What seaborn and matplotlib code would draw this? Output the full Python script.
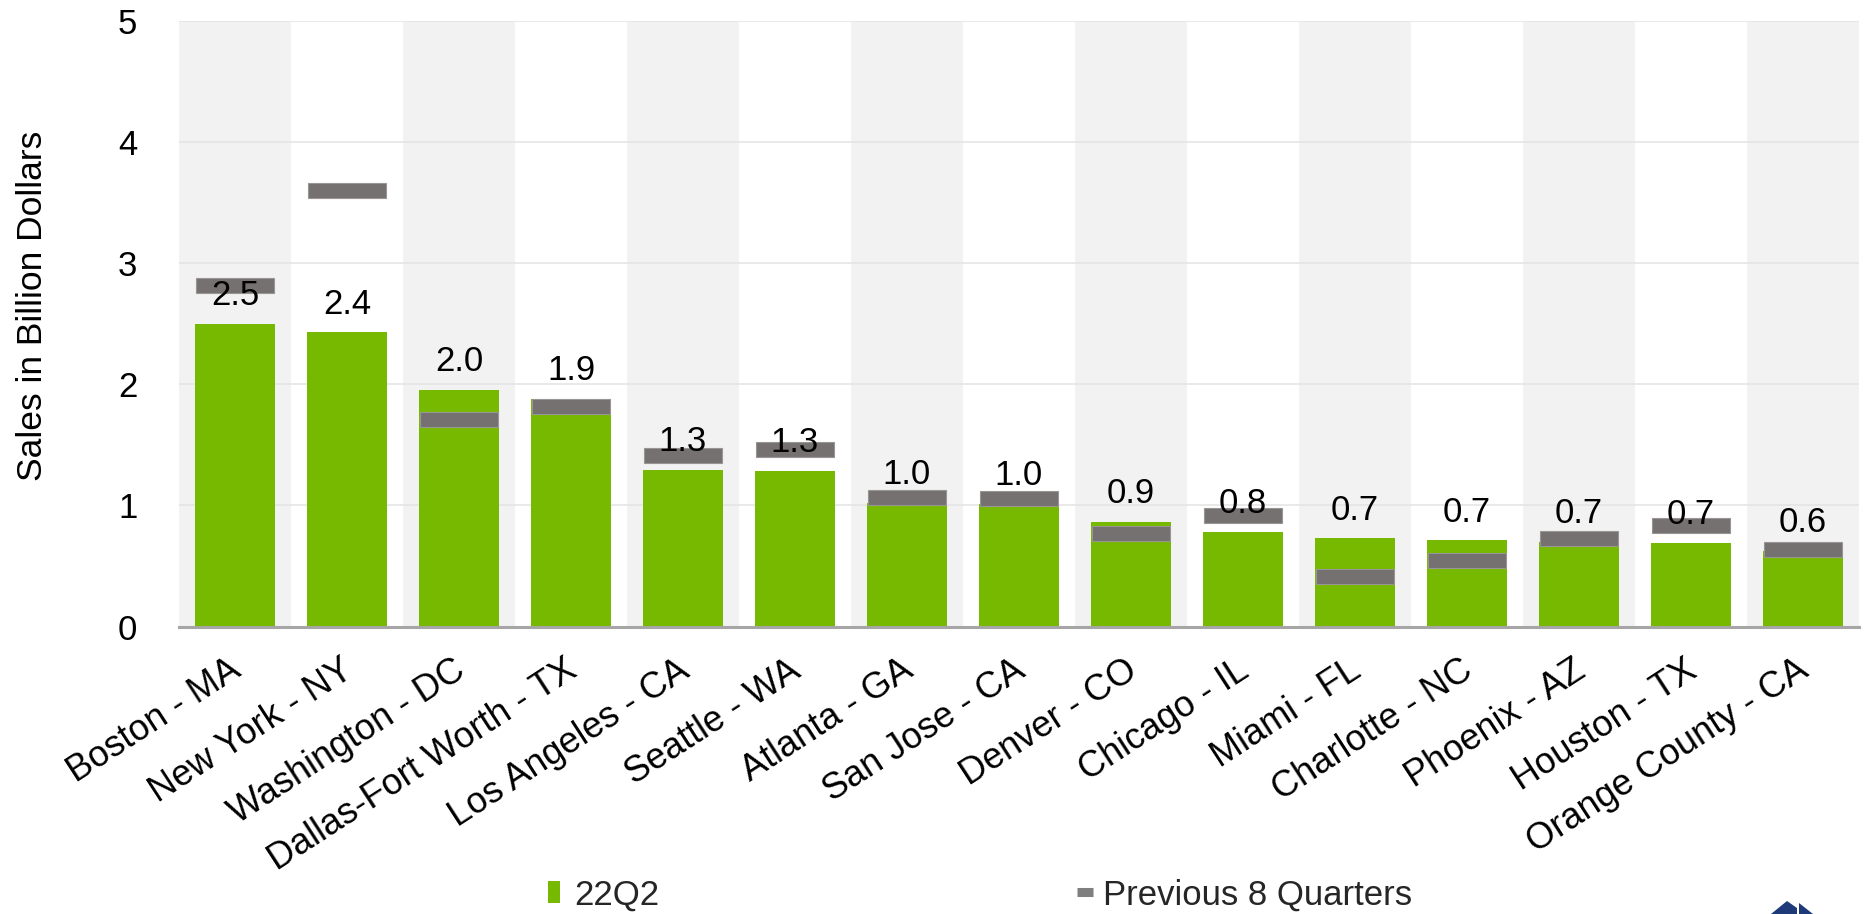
import numpy as np
import pandas as pd
import matplotlib
matplotlib.use("Agg")
import matplotlib.pyplot as plt
from matplotlib.patches import Patch, Polygon
from matplotlib.lines import Line2D
from matplotlib.transforms import ScaledTranslation
import seaborn as sns

# ---- data -------------------------------------------------------------
markets = [
    "Boston - MA", "New York - NY", "Washington - DC", "Dallas-Fort Worth - TX",
    "Los Angeles - CA", "Seattle - WA", "Atlanta - GA", "San Jose - CA",
    "Denver - CO", "Chicago - IL", "Miami - FL", "Charlotte - NC",
    "Phoenix - AZ", "Houston - TX", "Orange County - CA",
]
sales_22q2 = [2.50, 2.43, 1.955, 1.88, 1.293, 1.283, 1.02, 1.015,
              0.864, 0.781, 0.729, 0.712, 0.701, 0.69, 0.624]
prev_8_quarters = [2.82, 3.60, 1.71, 1.82, 1.415, 1.46, 1.07, 1.054,
                   0.771, 0.917, 0.417, 0.548, 0.727, 0.832, 0.639]
y_ticks = [0, 1, 2, 3, 4, 5]
series_names = ["22Q2", "Previous 8 Quarters"]

GREEN = "#76B900"
GREY_MARK = "#767171"
AXIS_GREY = "#A6A6A6"
BAND = "#F2F2F2"
GRID = "#E3E3E3"
NAVY = "#1F3A78"

df = pd.DataFrame({"market": markets, "sales": sales_22q2, "prev": prev_8_quarters})

sns.set_theme(style="white")
plt.rcParams["font.family"] = ["Liberation Sans", "DejaVu Sans"]

fig = plt.figure(figsize=(18.66, 9.14), dpi=100)
ax = fig.add_axes([0.0959, 0.3145, 0.9003, 0.6622])

n = len(markets)
pos = np.arange(n)

# alternating column shading
for i in pos[::2]:
    ax.axvspan(i - 0.5, i + 0.5, color=BAND, lw=0, zorder=0)

# current-quarter bars
sns.barplot(data=df, x="market", y="sales", color=GREEN, saturation=1,
            width=0.71, ax=ax, zorder=2, linewidth=0)

# previous 8 quarters average as a thick horizontal marker
mark_h = 0.124
ax.bar(pos, mark_h, bottom=df["prev"] - mark_h / 2, width=0.69,
       color=GREY_MARK, zorder=3, linewidth=0.8, edgecolor="#9A9595")

# value labels above each bar
for i, v in zip(pos, df["sales"]):
    ax.annotate(f"{v:.1f}", xy=(i, v), xytext=(0, 13.5), textcoords="offset points",
                ha="center", va="baseline", fontsize=25, color="black", zorder=5)

# axes styling
ax.set_xlim(-0.5, n - 0.5)
ax.set_ylim(0, 5)
ax.set_yticks(y_ticks)
ax.set_yticklabels([str(t) for t in y_ticks])
ax.set_axisbelow(True)
ax.yaxis.grid(True, color=GRID, lw=1.1, zorder=1)
ax.xaxis.grid(False)

for s in ["top", "right", "left"]:
    ax.spines[s].set_visible(False)
ax.spines["bottom"].set_color(AXIS_GREY)
ax.spines["bottom"].set_linewidth(2.2)
ax.spines["bottom"].set_zorder(4)

ax.set_xticks(pos)
ax.set_xticks(np.arange(n + 1) - 0.5, minor=True)
ax.set_xticklabels(markets)
ax.tick_params(axis="x", which="major", direction="in", length=6, width=2,
               color=AXIS_GREY, pad=35, labelsize=26, labelcolor="black")
ax.tick_params(axis="x", which="minor", direction="inout", length=14, width=2,
               color=AXIS_GREY)
ax.tick_params(axis="y", length=0, pad=30, labelsize=25, labelcolor="black")

shift = ScaledTranslation(8 / 100, 0, fig.dpi_scale_trans)
for lbl in ax.get_xticklabels():
    lbl.set_rotation(33)
    lbl.set_ha("right")
    lbl.set_va("baseline")
    lbl.set_rotation_mode("anchor")
    lbl.set_transform(lbl.get_transform() + shift)

ax.set_xlabel("")
ax.set_ylabel("Sales in Billion Dollars", fontsize=25.5, color="black")
ax.yaxis.set_label_coords(-0.0774, 0.53)

# legend entries along the bottom edge
leg1 = fig.legend(handles=[Patch(facecolor=GREEN, edgecolor="none")],
                  labels=[series_names[0]], loc="center left",
                  bbox_to_anchor=(0.2937, 0.0208), frameon=False, fontsize=25,
                  handlelength=0.33, handleheight=0.58, handletextpad=0.43,
                  borderpad=0, borderaxespad=0)
leg2 = fig.legend(handles=[Line2D([0], [0], color="#7F7F7F", lw=6.5,
                                  solid_capstyle="butt")],
                  labels=[series_names[1]], loc="center left",
                  bbox_to_anchor=(0.5772, 0.0208), frameon=False, fontsize=25,
                  handlelength=0.45, handletextpad=0.29,
                  borderpad=0, borderaxespad=0)

# corner emblem
def fpt(x, y):
    return (x / 1866, 1 - y / 914)

fig.patches.append(Polygon([fpt(1771, 914), fpt(1787, 901), fpt(1797, 908), fpt(1797, 914)],
                           closed=True, transform=fig.transFigure, facecolor=NAVY,
                           edgecolor="none", figure=fig))
fig.patches.append(Polygon([fpt(1799, 903), fpt(1799, 914), fpt(1813, 914)],
                           closed=True, transform=fig.transFigure, facecolor=NAVY,
                           edgecolor="none", figure=fig))

fig.savefig("out.png", dpi=100, facecolor="white")
